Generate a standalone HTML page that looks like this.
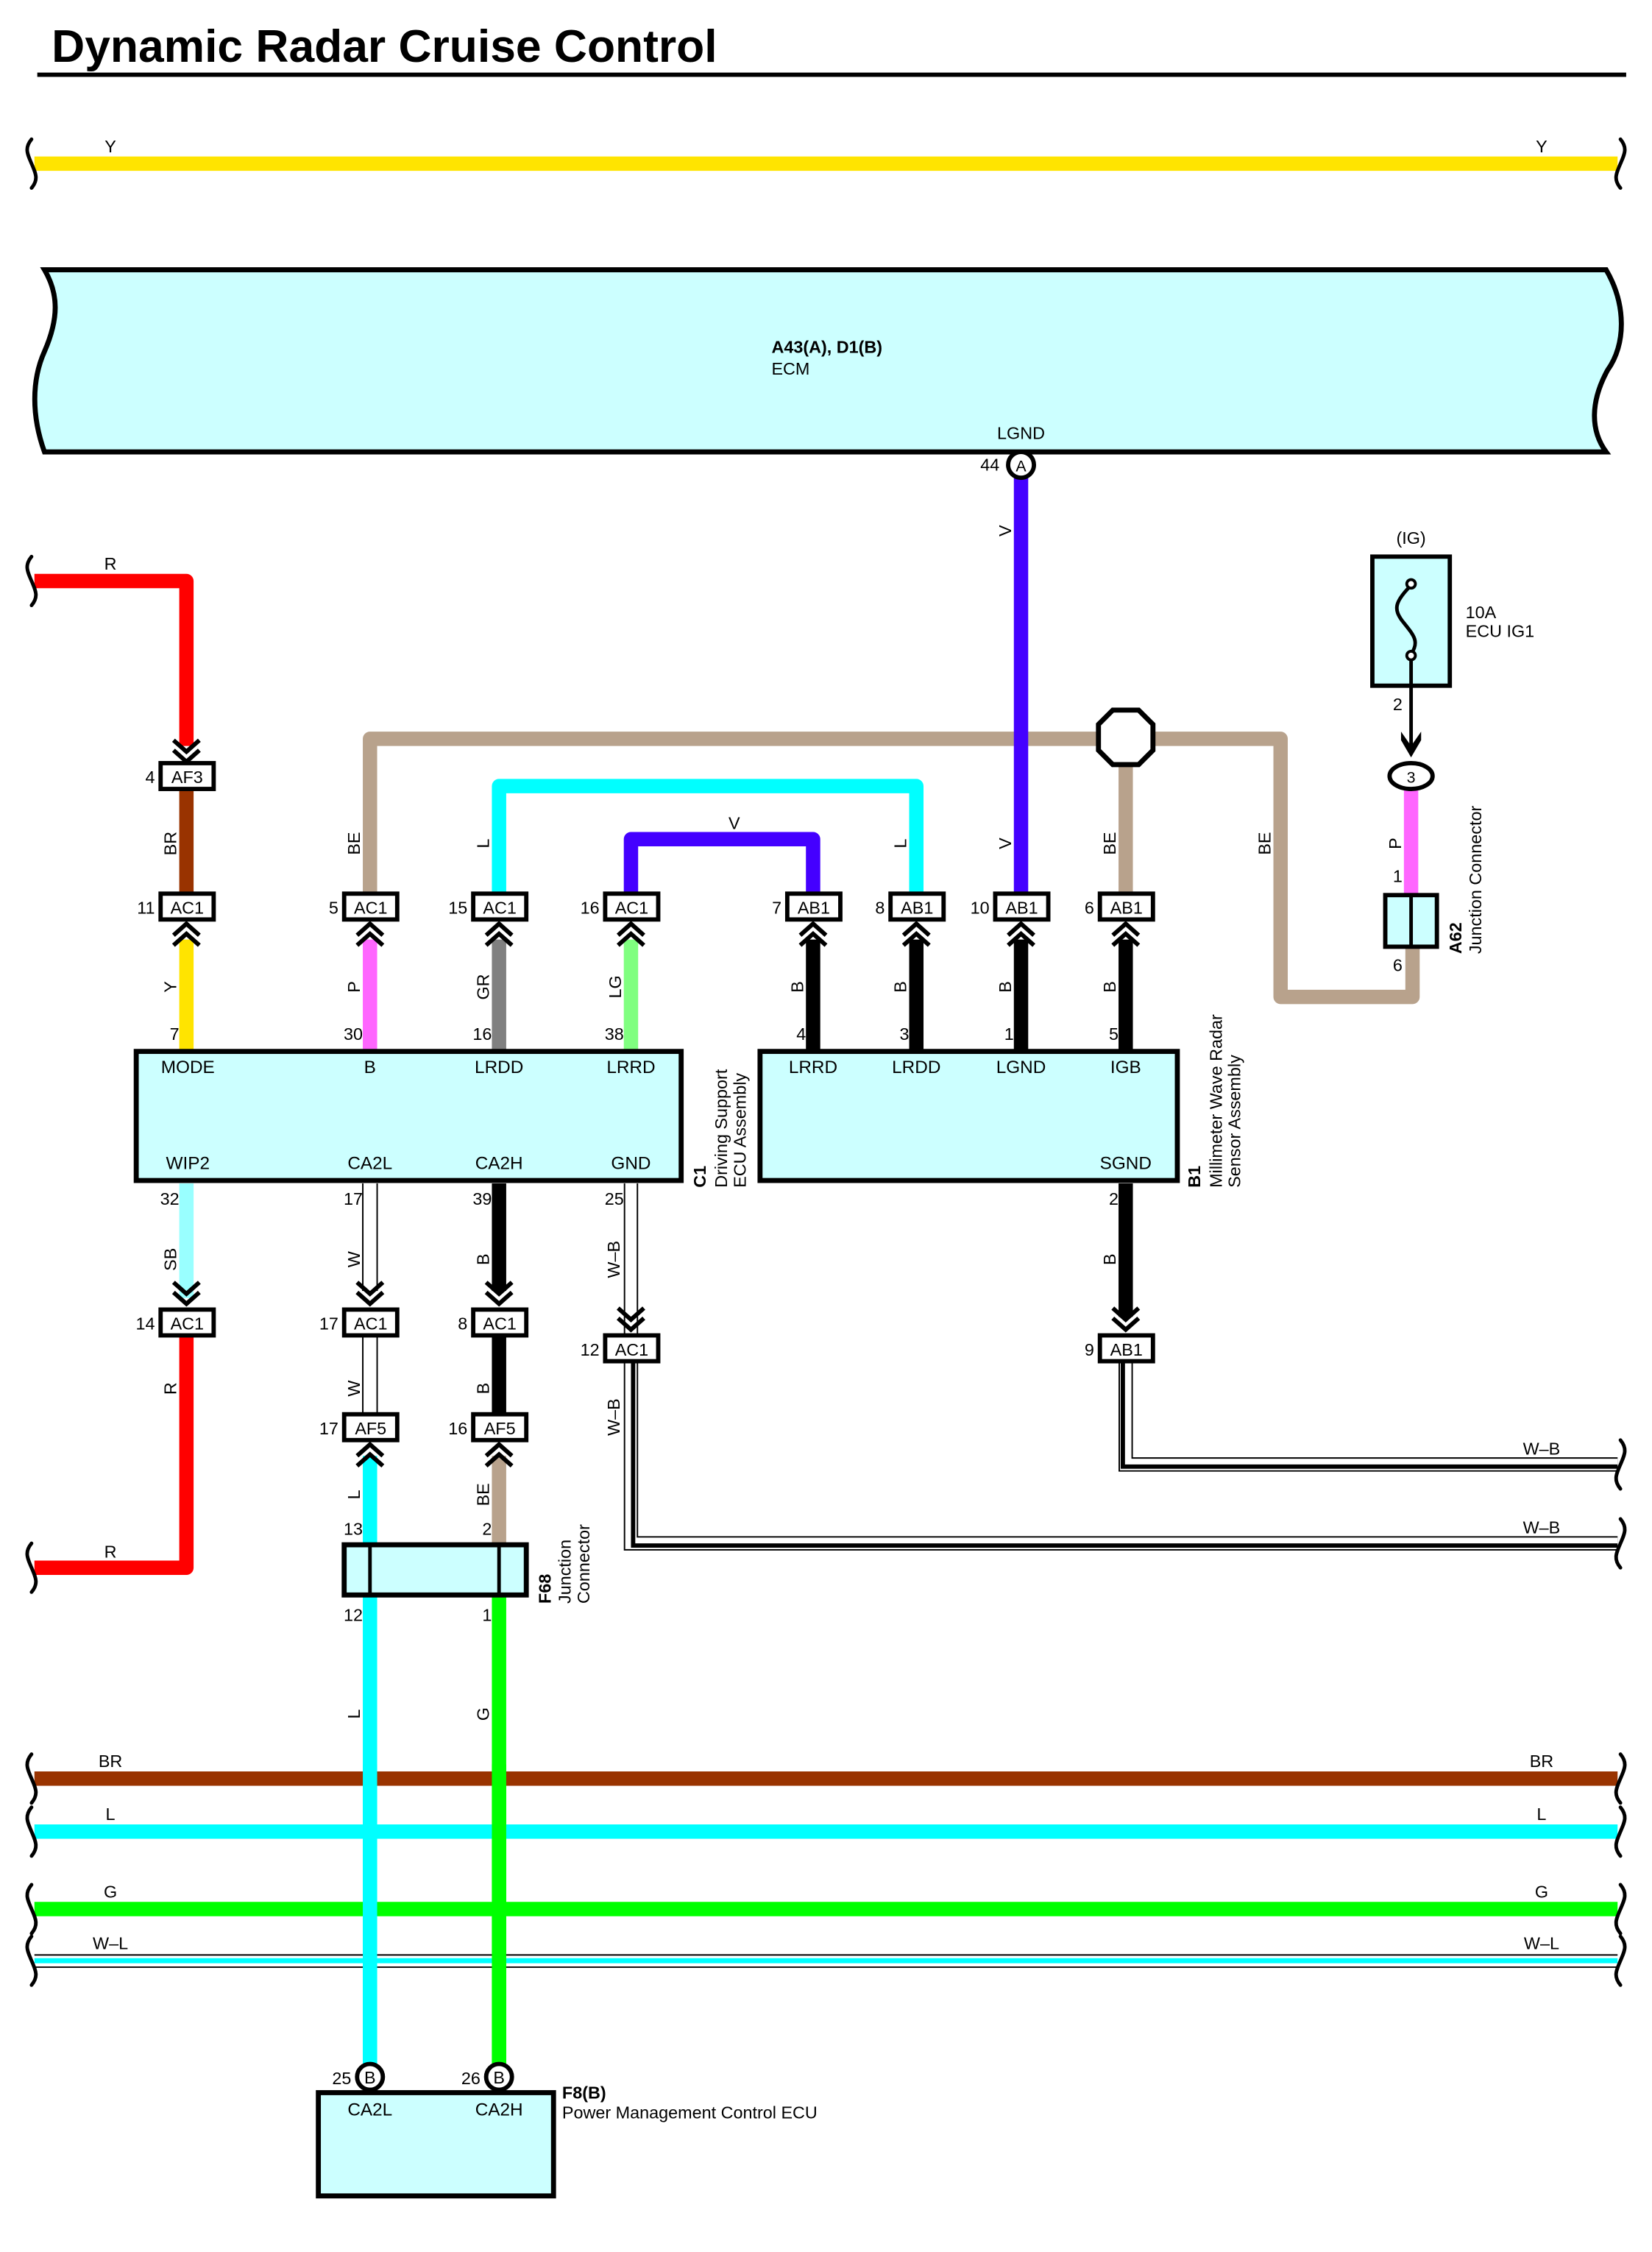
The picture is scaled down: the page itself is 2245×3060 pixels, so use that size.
<!DOCTYPE html>
<html><head><meta charset="utf-8"><style>html,body{margin:0;padding:0;background:#fff}svg{display:block}text{font-family:"Liberation Sans",Arial,sans-serif}</style></head>
<body>
<svg xmlns="http://www.w3.org/2000/svg" width="2245" height="3060" viewBox="0 0 1152 1570">
<defs>
<g id="cd"><polyline points="-9,-9 0,-1 9,-9" fill="none" stroke="#000" stroke-width="3"/><polyline points="-9,-2 0,6 9,-2" fill="none" stroke="#000" stroke-width="3"/></g>
<g id="cu"><polyline points="-9,9 0,1 9,9" fill="none" stroke="#000" stroke-width="3"/><polyline points="-9,2 0,-6 9,2" fill="none" stroke="#000" stroke-width="3"/></g>
<path id="br" d="M0,-17 c-5,6 -3,10 0,17 c3,7 5,11 0,17" fill="none" stroke="#000" stroke-width="2.5" stroke-linecap="round"/>
</defs>
<rect width="1152" height="1570" fill="#fff"/>
<text x="36" y="43" font-size="32" font-weight="bold">Dynamic Radar Cruise Control</text>
<rect x="26" y="50.5" width="1108" height="3" fill="#000"/>

<line x1="24" y1="114" x2="1128" y2="114" stroke="#ffe400" stroke-width="10"/>
<use href="#br" x="22" y="114"/><use href="#br" x="1130" y="114" transform="translate(2260,0) scale(-1,1)"/>
<text x="77" y="106" font-size="12" text-anchor="middle">Y</text>
<text x="1075" y="106" font-size="12" text-anchor="middle">Y</text>

<path d="M31,188 L1120,188 C1134,212 1134,240 1121,258 C1109,280 1109,300 1120,315 L31,315 C22,290 22,265 31,245 C41,222 41,205 31,188 Z" fill="#ccffff" stroke="#000" stroke-width="3.5"/>
<text x="538" y="246" font-size="12" font-weight="bold">A43(A), D1(B)</text>
<text x="538" y="261" font-size="12">ECM</text>
<text x="712" y="306" font-size="12" text-anchor="middle">LGND</text>

<polyline points="258,622 258,515 893,515 893,695 985,695 985,660" fill="none" stroke="#b8a28c" stroke-width="10" stroke-linejoin="round"/>
<line x1="785" y1="515" x2="785" y2="622" stroke="#b8a28c" stroke-width="10"/>
<polyline points="348,622 348,548 639,548 639,622" fill="none" stroke="#00ffff" stroke-width="10" stroke-linejoin="round"/>
<polyline points="440,622 440,585 567,585 567,622" fill="none" stroke="#4400ff" stroke-width="10" stroke-linejoin="round"/>
<line x1="712" y1="333" x2="712" y2="622" stroke="#4400ff" stroke-width="10"/>
<polygon points="776,495 794,495 804,505 804,523 794,533 776,533 766,523 766,505" fill="#fff" stroke="#000" stroke-width="3.5"/>

<circle cx="712" cy="324" r="9" fill="#fff" stroke="#000" stroke-width="3"/>
<text x="712" y="328.5" font-size="11" text-anchor="middle">A</text>
<text x="697" y="328" font-size="12" text-anchor="end">44</text>

<polyline points="24,405 130,405 130,520" fill="none" stroke="#ff0000" stroke-width="10" stroke-linejoin="round"/>
<use href="#br" x="22" y="405"/>
<text x="77" y="397" font-size="12" text-anchor="middle">R</text>
<use href="#cd" x="130" y="525"/>
<line x1="130" y1="550" x2="130" y2="622" stroke="#993300" stroke-width="10"/>

<line x1="130" y1="655" x2="130" y2="733" stroke="#ffe400" stroke-width="10"/>
<line x1="258" y1="655" x2="258" y2="733" stroke="#ff66ff" stroke-width="10"/>
<line x1="348" y1="655" x2="348" y2="733" stroke="#808080" stroke-width="10"/>
<line x1="440" y1="655" x2="440" y2="733" stroke="#80ff80" stroke-width="10"/>
<line x1="567" y1="655" x2="567" y2="733" stroke="#000" stroke-width="10"/>
<line x1="639" y1="655" x2="639" y2="733" stroke="#000" stroke-width="10"/>
<line x1="712" y1="655" x2="712" y2="733" stroke="#000" stroke-width="10"/>
<line x1="785" y1="655" x2="785" y2="733" stroke="#000" stroke-width="10"/>
<g>
<use href="#cu" x="130" y="650"/><use href="#cu" x="258" y="650"/><use href="#cu" x="348" y="650"/><use href="#cu" x="440" y="650"/>
<use href="#cu" x="567" y="650"/><use href="#cu" x="639" y="650"/><use href="#cu" x="712" y="650"/><use href="#cu" x="785" y="650"/>
</g>

<g fill="#fff" stroke="#000" stroke-width="3">
<rect x="112" y="532" width="37" height="18"/>
<rect x="112" y="623" width="37" height="18"/><rect x="240" y="623" width="37" height="18"/><rect x="330" y="623" width="37" height="18"/><rect x="422" y="623" width="37" height="18"/>
<rect x="549" y="623" width="37" height="18"/><rect x="621" y="623" width="37" height="18"/><rect x="694" y="623" width="37" height="18"/><rect x="767" y="623" width="37" height="18"/>
</g>
<g font-size="12" text-anchor="middle">
<text x="130.5" y="546">AF3</text>
<text x="130.5" y="637">AC1</text><text x="258.5" y="637">AC1</text><text x="348.5" y="637">AC1</text><text x="440.5" y="637">AC1</text>
<text x="567.5" y="637">AB1</text><text x="639.5" y="637">AB1</text><text x="712.5" y="637">AB1</text><text x="785.5" y="637">AB1</text>
</g>
<g font-size="12" text-anchor="end">
<text x="108" y="546">4</text>
<text x="108" y="637">11</text><text x="236" y="637">5</text><text x="326" y="637">15</text><text x="418" y="637">16</text>
<text x="545" y="637">7</text><text x="617" y="637">8</text><text x="690" y="637">10</text><text x="763" y="637">6</text>
<text x="125" y="725">7</text><text x="253" y="725">30</text><text x="343" y="725">16</text><text x="435" y="725">38</text>
<text x="562" y="725">4</text><text x="634" y="725">3</text><text x="707" y="725">1</text><text x="780" y="725">5</text>
</g>
<g font-size="12">
<text transform="translate(123,588) rotate(-90)" text-anchor="middle">BR</text>
<text transform="translate(251,588) rotate(-90)" text-anchor="middle">BE</text>
<text transform="translate(341,588) rotate(-90)" text-anchor="middle">L</text>
<text transform="translate(632,588) rotate(-90)" text-anchor="middle">L</text>
<text transform="translate(705,588) rotate(-90)" text-anchor="middle">V</text>
<text transform="translate(705,370) rotate(-90)" text-anchor="middle">V</text>
<text transform="translate(778,588) rotate(-90)" text-anchor="middle">BE</text>
<text transform="translate(886,588) rotate(-90)" text-anchor="middle">BE</text>
<text x="512" y="578" text-anchor="middle">V</text>
<text transform="translate(123,688) rotate(-90)" text-anchor="middle">Y</text>
<text transform="translate(251,688) rotate(-90)" text-anchor="middle">P</text>
<text transform="translate(341,688) rotate(-90)" text-anchor="middle">GR</text>
<text transform="translate(433,688) rotate(-90)" text-anchor="middle">LG</text>
<text transform="translate(560,688) rotate(-90)" text-anchor="middle">B</text>
<text transform="translate(632,688) rotate(-90)" text-anchor="middle">B</text>
<text transform="translate(705,688) rotate(-90)" text-anchor="middle">B</text>
<text transform="translate(778,688) rotate(-90)" text-anchor="middle">B</text>
<text transform="translate(977,588) rotate(-90)" text-anchor="middle">P</text>
</g>

<text x="984" y="379" font-size="12" text-anchor="middle">(IG)</text>
<rect x="957" y="388" width="54" height="90" fill="#ccffff" stroke="#000" stroke-width="3"/>
<path d="M984,408 C972,420 972,425 978,433 C986,443 990,447 984,456" fill="none" stroke="#000" stroke-width="2.5"/>
<circle cx="984" cy="407" r="3" fill="#fff" stroke="#000" stroke-width="2"/>
<circle cx="984" cy="457" r="3" fill="#fff" stroke="#000" stroke-width="2"/>
<line x1="984" y1="460" x2="984" y2="524" stroke="#000" stroke-width="2.5"/>
<path d="M977,516 L984,528 L991,516 L991,510 L984,520 L977,510 Z" fill="#000"/>
<text x="1022" y="431" font-size="12">10A</text>
<text x="1022" y="444" font-size="12">ECU IG1</text>
<text x="978" y="495" font-size="12" text-anchor="end">2</text>
<line x1="984" y1="550" x2="984" y2="624" stroke="#ff66ff" stroke-width="10"/>
<ellipse cx="984" cy="541" rx="15" ry="9" fill="#fff" stroke="#000" stroke-width="3"/>
<text x="984" y="545.5" font-size="11" text-anchor="middle">3</text>
<text x="978" y="615" font-size="12" text-anchor="end">1</text>
<rect x="966" y="624" width="36" height="36" fill="#ccffff" stroke="#000" stroke-width="3"/>
<line x1="984" y1="624" x2="984" y2="660" stroke="#000" stroke-width="2.5"/>
<text x="978" y="677" font-size="12" text-anchor="end">6</text>
<text transform="translate(1019,665) rotate(-90)" font-size="12" font-weight="bold">A62</text>
<text transform="translate(1033,665) rotate(-90)" font-size="12">Junction Connector</text>

<rect x="95" y="733" width="380" height="90" fill="#ccffff" stroke="#000" stroke-width="3.5"/>
<g font-size="12.5" text-anchor="middle">
<text x="131" y="748">MODE</text><text x="258" y="748">B</text><text x="348" y="748">LRDD</text><text x="440" y="748">LRRD</text>
<text x="131" y="815">WIP2</text><text x="258" y="815">CA2L</text><text x="348" y="815">CA2H</text><text x="440" y="815">GND</text>
</g>
<text transform="translate(492,828) rotate(-90)" font-size="12" font-weight="bold">C1</text>
<text transform="translate(507,828) rotate(-90)" font-size="12">Driving Support</text>
<text transform="translate(520,828) rotate(-90)" font-size="12">ECU Assembly</text>
<rect x="530" y="733" width="291" height="90" fill="#ccffff" stroke="#000" stroke-width="3.5"/>
<g font-size="12.5" text-anchor="middle">
<text x="567" y="748">LRRD</text><text x="639" y="748">LRDD</text><text x="712" y="748">LGND</text><text x="785" y="748">IGB</text>
<text x="785" y="815">SGND</text>
</g>
<text transform="translate(837,828) rotate(-90)" font-size="12" font-weight="bold">B1</text>
<text transform="translate(852,828) rotate(-90)" font-size="12">Millimeter Wave Radar</text>
<text transform="translate(865,828) rotate(-90)" font-size="12">Sensor Assembly</text>

<line x1="130" y1="825" x2="130" y2="905" stroke="#99ffff" stroke-width="10"/>
<use href="#cd" x="130" y="903"/>
<polyline points="130,931 130,1093 24,1093" fill="none" stroke="#ff0000" stroke-width="10" stroke-linejoin="round"/>
<use href="#br" x="22" y="1093"/>
<text x="77" y="1086" font-size="12" text-anchor="middle">R</text>

<g>
<line x1="258" y1="825" x2="258" y2="900" stroke="#000" stroke-width="11"/>
<line x1="258" y1="825" x2="258" y2="900" stroke="#fff" stroke-width="9"/>
<line x1="258" y1="931" x2="258" y2="986" stroke="#000" stroke-width="11"/>
<line x1="258" y1="931" x2="258" y2="986" stroke="#fff" stroke-width="9"/>
</g>
<use href="#cd" x="258" y="903"/>
<line x1="258" y1="1015" x2="258" y2="1448" stroke="#00ffff" stroke-width="10"/>
<use href="#cu" x="258" y="1013"/>
<line x1="348" y1="825" x2="348" y2="900" stroke="#000" stroke-width="10"/>
<use href="#cd" x="348" y="903"/>
<line x1="348" y1="931" x2="348" y2="986" stroke="#000" stroke-width="10"/>
<line x1="348" y1="1015" x2="348" y2="1077" stroke="#b8a28c" stroke-width="10"/>
<use href="#cu" x="348" y="1013"/>
<line x1="348" y1="1112" x2="348" y2="1448" stroke="#00ff00" stroke-width="10"/>

<polyline points="440,825 440,1076 1128,1076" fill="none" stroke="#000" stroke-width="10"/>
<polyline points="440,825 440,1076 1128,1076" fill="none" stroke="#fff" stroke-width="8"/>
<polyline points="441.5,949 441.5,1077.5 1128,1077.5" fill="none" stroke="#000" stroke-width="3"/>
<use href="#cd" x="440" y="921"/>
<line x1="785" y1="825" x2="785" y2="918" stroke="#000" stroke-width="10"/>
<use href="#cd" x="785" y="921"/>
<polyline points="785,949 785,1021 1128,1021" fill="none" stroke="#000" stroke-width="10"/>
<polyline points="785,949 785,1021 1128,1021" fill="none" stroke="#fff" stroke-width="8"/>
<polyline points="783,949 783,1022.5 1128,1022.5" fill="none" stroke="#000" stroke-width="3"/>
<use href="#br" x="1130" y="1021" transform="translate(2260,0) scale(-1,1)"/>
<use href="#br" x="1130" y="1076" transform="translate(2260,0) scale(-1,1)"/>
<text x="1075" y="1014" font-size="12" text-anchor="middle">W–B</text>
<text x="1075" y="1069" font-size="12" text-anchor="middle">W–B</text>

<g fill="#fff" stroke="#000" stroke-width="3">
<rect x="112" y="913" width="37" height="18"/><rect x="240" y="913" width="37" height="18"/><rect x="330" y="913" width="37" height="18"/>
<rect x="422" y="931" width="37" height="18"/><rect x="767" y="931" width="37" height="18"/>
<rect x="240" y="986" width="37" height="18"/><rect x="330" y="986" width="37" height="18"/>
</g>
<g font-size="12" text-anchor="middle">
<text x="130.5" y="927">AC1</text><text x="258.5" y="927">AC1</text><text x="348.5" y="927">AC1</text>
<text x="440.5" y="945">AC1</text><text x="785.5" y="945">AB1</text>
<text x="258.5" y="1000">AF5</text><text x="348.5" y="1000">AF5</text>
</g>
<g font-size="12" text-anchor="end">
<text x="125" y="840">32</text><text x="253" y="840">17</text><text x="343" y="840">39</text><text x="435" y="840">25</text><text x="780" y="840">2</text>
<text x="108" y="927">14</text><text x="236" y="927">17</text><text x="326" y="927">8</text>
<text x="418" y="945">12</text><text x="763" y="945">9</text>
<text x="236" y="1000">17</text><text x="326" y="1000">16</text>
<text x="253" y="1070">13</text><text x="343" y="1070">2</text>
<text x="253" y="1130">12</text><text x="343" y="1130">1</text>
</g>
<g font-size="12">
<text transform="translate(123,878) rotate(-90)" text-anchor="middle">SB</text>
<text transform="translate(251,878) rotate(-90)" text-anchor="middle">W</text>
<text transform="translate(341,878) rotate(-90)" text-anchor="middle">B</text>
<text transform="translate(432,878) rotate(-90)" text-anchor="middle">W–B</text>
<text transform="translate(778,878) rotate(-90)" text-anchor="middle">B</text>
<text transform="translate(123,968) rotate(-90)" text-anchor="middle">R</text>
<text transform="translate(251,968) rotate(-90)" text-anchor="middle">W</text>
<text transform="translate(341,968) rotate(-90)" text-anchor="middle">B</text>
<text transform="translate(432,988) rotate(-90)" text-anchor="middle">W–B</text>
<text transform="translate(251,1042) rotate(-90)" text-anchor="middle">L</text>
<text transform="translate(341,1042) rotate(-90)" text-anchor="middle">BE</text>
<text transform="translate(251,1195) rotate(-90)" text-anchor="middle">L</text>
<text transform="translate(341,1195) rotate(-90)" text-anchor="middle">G</text>
</g>

<rect x="240" y="1077" width="127" height="35" fill="#ccffff" stroke="#000" stroke-width="3.5"/>
<line x1="258" y1="1077" x2="258" y2="1112" stroke="#000" stroke-width="2.5"/>
<line x1="348" y1="1077" x2="348" y2="1112" stroke="#000" stroke-width="2.5"/>
<text transform="translate(384,1118) rotate(-90)" font-size="12" font-weight="bold">F68</text>
<text transform="translate(398,1118) rotate(-90)" font-size="12">Junction</text>
<text transform="translate(411,1118) rotate(-90)" font-size="12">Connector</text>

<line x1="24" y1="1240" x2="1128" y2="1240" stroke="#993300" stroke-width="10"/>
<line x1="24" y1="1277" x2="1128" y2="1277" stroke="#00ffff" stroke-width="10"/>
<line x1="24" y1="1331" x2="1128" y2="1331" stroke="#00ff00" stroke-width="10"/>
<line x1="24" y1="1363" x2="1128" y2="1363" stroke="#000" stroke-width="1"/>
<line x1="24" y1="1367" x2="1128" y2="1367" stroke="#00ffff" stroke-width="3.5"/>
<line x1="24" y1="1371.5" x2="1128" y2="1371.5" stroke="#000" stroke-width="1"/>
<line x1="258" y1="1230" x2="258" y2="1448" stroke="#00ffff" stroke-width="10"/>
<line x1="348" y1="1230" x2="348" y2="1448" stroke="#00ff00" stroke-width="10"/>
<use href="#br" x="22" y="1240"/><use href="#br" x="22" y="1277"/><use href="#br" x="22" y="1331"/><use href="#br" x="22" y="1367"/>
<g transform="translate(2260,0) scale(-1,1)"><use href="#br" x="1130" y="1240"/><use href="#br" x="1130" y="1277"/><use href="#br" x="1130" y="1331"/><use href="#br" x="1130" y="1367"/></g>
<g font-size="12" text-anchor="middle">
<text x="77" y="1232">BR</text><text x="1075" y="1232">BR</text>
<text x="77" y="1269">L</text><text x="1075" y="1269">L</text>
<text x="77" y="1323">G</text><text x="1075" y="1323">G</text>
<text x="77" y="1359">W–L</text><text x="1075" y="1359">W–L</text>
</g>

<rect x="222" y="1459" width="164" height="72" fill="#ccffff" stroke="#000" stroke-width="3.5"/>
<circle cx="258" cy="1448" r="9" fill="#fff" stroke="#000" stroke-width="3"/>
<circle cx="348" cy="1448" r="9" fill="#fff" stroke="#000" stroke-width="3"/>
<text x="258" y="1452.5" font-size="12" text-anchor="middle">B</text>
<text x="348" y="1452.5" font-size="12" text-anchor="middle">B</text>
<text x="245" y="1453" font-size="12" text-anchor="end">25</text>
<text x="335" y="1453" font-size="12" text-anchor="end">26</text>
<text x="258" y="1475" font-size="12.5" text-anchor="middle">CA2L</text>
<text x="348" y="1475" font-size="12.5" text-anchor="middle">CA2H</text>
<text x="392" y="1463" font-size="12" font-weight="bold">F8(B)</text>
<text x="392" y="1477" font-size="12">Power Management Control ECU</text>
</svg>
</body></html>
